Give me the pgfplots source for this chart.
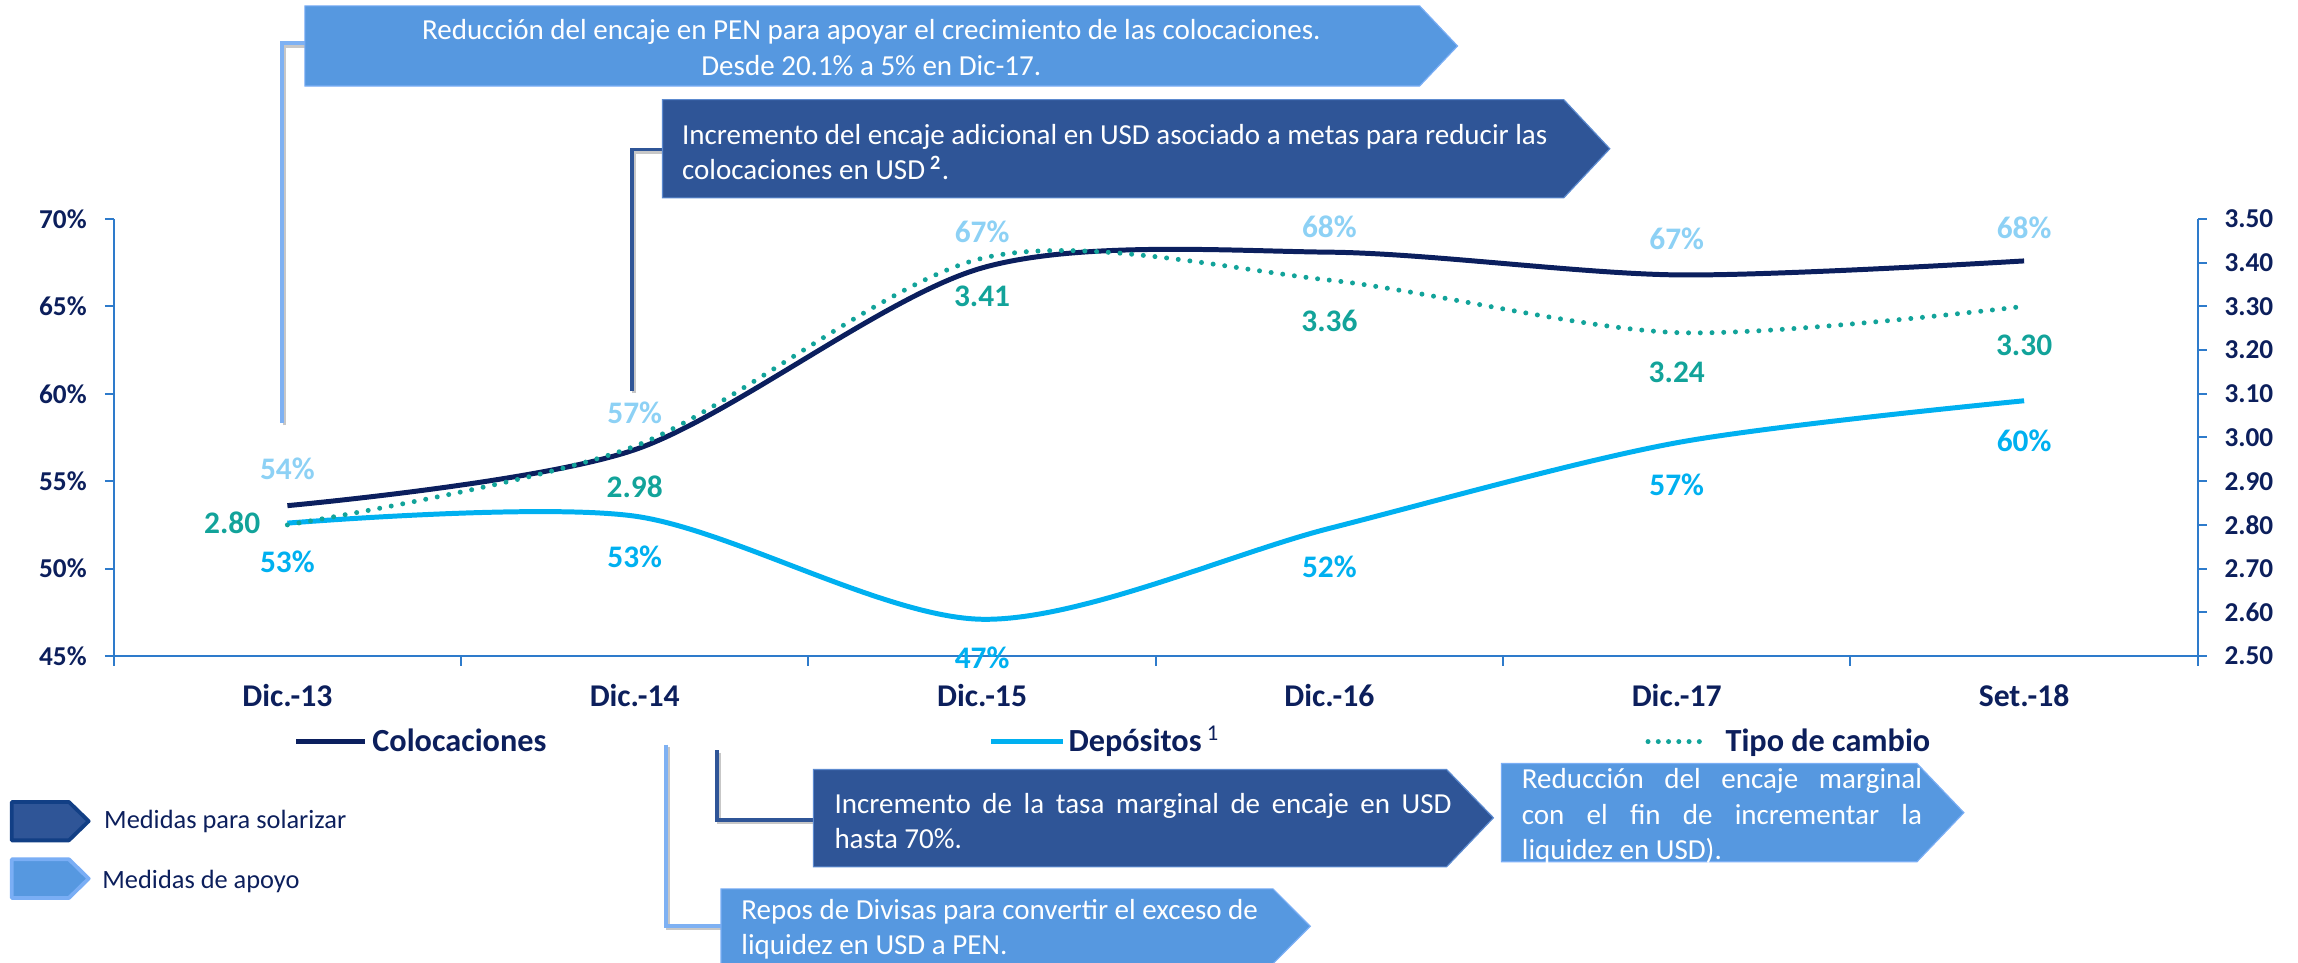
\documentclass[border=0pt]{standalone}
\usepackage{pgfplots}
\pgfplotsset{compat=1.18}
\usepackage{fontspec}
\setmainfont{Carlito}

\definecolor{navy}{HTML}{0C1F5C}
\definecolor{colline}{HTML}{0B1F5E}
\definecolor{dep}{HTML}{00B0F0}
\definecolor{tc}{HTML}{12A39A}
\definecolor{collab}{HTML}{8DD1F5}
\definecolor{axblue}{HTML}{2E7BCB}
\definecolor{boxlight}{HTML}{5698E0}
\definecolor{boxlightedge}{HTML}{7AAEF5}
\definecolor{boxdark}{HTML}{2F5597}
\definecolor{boxdarkedge}{HTML}{123F85}
\definecolor{conlight}{HTML}{7EB1F3}

\newcommand{\fs}[1]{\fontsize{#1}{#1}\selectfont}
\newcommand{\boxfont}{\fontsize{9.9}{12}\selectfont}

\begin{document}
\begin{tikzpicture}
\pgfplotsset{
  common/.style={
    at={(38.8pt,-223.8pt)}, anchor=south west,
    scale only axis, width=711pt, height=149.1pt,
    xmin=-0.5, xmax=5.5, clip=false,
    tick align=outside,
    /pgf/number format/assume math mode=true,
    axis line style={draw=axblue, line width=0.8pt},
    tick style={draw=axblue, line width=0.7pt},
    major tick length=3pt, minor tick length=3.4pt,
  },
}
% eje izquierdo: colocaciones y depositos
\begin{axis}[common, ymin=45, ymax=70,
  axis x line*=bottom, axis y line*=left,
  xtick={0,...,5},
  xticklabels={Dic.-13,Dic.-14,Dic.-15,Dic.-16,Dic.-17,Set.-18},
  major x tick style={draw=none},
  minor xtick={-0.5,0.5,1.5,2.5,3.5,4.5,5.5},
  ytick={45,50,55,60,65,70},
  yticklabel={\pgfmathprintnumber{\tick}\%},
  yticklabel style={font=\bfseries\fs{9.3}, text=navy, xshift=-2.7pt},
  xticklabel style={font=\bfseries\fs{10.8}, text=navy, anchor=base, yshift=-14.4pt},
]
\addplot[colline, line width=1.7pt, smooth] coordinates {(0,53.6)(1,56.8)(2,67.2)(3,68.1)(4,66.8)(5,67.6)};
\addplot[dep, line width=1.7pt, smooth] coordinates {(0,52.6)(1,53.0)(2,47.1)(3,52.3)(4,57.2)(5,59.6)};

% etiquetas Colocaciones
\begin{scope}[every node/.style={font=\bfseries\fs{10.7}, text=collab}]
\node at (axis cs:0,55.70) {54\%};
\node at (axis cs:1,58.92) {57\%};
\node at (axis cs:2,69.28) {67\%};
\node at (axis cs:3,69.56) {68\%};
\node at (axis cs:4,68.89) {67\%};
\node at (axis cs:5,69.51) {68\%};
\end{scope}
% etiquetas Depositos
\begin{scope}[every node/.style={font=\bfseries\fs{10.7}, text=dep}]
\node at (axis cs:0,50.40) {53\%};
\node at (axis cs:1,50.68) {53\%};
\node at (axis cs:2,44.87) {47\%};
\node at (axis cs:3,50.11) {52\%};
\node at (axis cs:4,54.78) {57\%};
\node at (axis cs:5,57.32) {60\%};
\end{scope}
% etiquetas Tipo de cambio
\begin{scope}[every node/.style={font=\bfseries\fs{10.7}, text=tc}]
\node at (axis cs:-0.159,52.63) {2.80};
\node at (axis cs:1,54.69) {2.98};
\node at (axis cs:2,65.59) {3.41};
\node at (axis cs:3,64.17) {3.36};
\node at (axis cs:4,61.23) {3.24};
\node at (axis cs:5,62.79) {3.30};
\end{scope}
\end{axis}

% eje derecho: tipo de cambio
\begin{axis}[common, ymin=2.5, ymax=3.5,
  axis x line=none, axis y line*=right,
  ytick={2.5,2.6,2.7,2.8,2.9,3.0,3.1,3.2,3.3,3.4,3.5},
  yticklabel style={font=\bfseries\fs{9.3}, text=navy, xshift=2.6pt,
    /pgf/number format/fixed, /pgf/number format/fixed zerofill,
    /pgf/number format/precision=2},
]
\addplot[tc, line width=1.7pt, line cap=round, dash pattern=on 0pt off 4pt, smooth]
  coordinates {(0,2.80)(1,2.98)(2,3.41)(3,3.36)(4,3.24)(5,3.30)};
\end{axis}

\begin{scope}[x=0.5pt, y=-0.5pt]
% conectores
\draw[black!22, line width=1.3pt, shift={(1.6,1.6)}] (192.5,288.6) -- (192.5,29.6) -- (209,29.6);
\draw[conlight, line width=1.3pt] (192.5,288.6) -- (192.5,29.6) -- (209,29.6);
\draw[black!22, line width=1.3pt, shift={(1.6,1.6)}] (431,266.6) -- (431,102) -- (453,102);
\draw[boxdark, line width=1.3pt] (431,266.6) -- (431,102) -- (453,102);
\draw[black!22, line width=1.3pt, shift={(1.6,1.6)}] (489,512) -- (489,559.5) -- (556,559.5);
\draw[boxdark, line width=1.3pt] (489,512) -- (489,559.5) -- (556,559.5);
\draw[black!22, line width=1.3pt, shift={(1.6,1.6)}] (454.4,508) -- (454.4,632) -- (493,632);
\draw[conlight, line width=1.3pt] (454.4,508) -- (454.4,632) -- (493,632);

% cajas
\filldraw[fill=boxlight, draw=boxlightedge, line width=0.4pt]
  (208,4) -- (968.6,4) -- (994.5,31.4) -- (968.6,58.7) -- (208,58.7) -- cycle;
\filldraw[fill=boxdark, draw=boxlightedge!60!boxdark, line width=0.4pt]
  (452,68) -- (1067,68) -- (1098.4,101.5) -- (1067,135) -- (452,135) -- cycle;
\filldraw[fill=boxdark, draw=boxlightedge!60!boxdark, line width=0.4pt]
  (555,525) -- (987,525) -- (1019,558) -- (987,591.5) -- (555,591.5) -- cycle;
\filldraw[fill=boxlight, draw=boxlightedge, line width=0.4pt]
  (492,606.5) -- (868.6,606.5) -- (894,632) -- (868.6,657.5) -- (492,657.5) -- cycle;
\filldraw[fill=boxlight, draw=boxlightedge, line width=0.4pt]
  (1024.4,521) -- (1308,521) -- (1340,554.5) -- (1308,588) -- (1024.4,588) -- cycle;

\begin{scope}[every node/.style={text=white, font=\boxfont, inner sep=0pt}]
\node[align=center] at (594.5,32.5) {Reducción del encaje en PEN para apoyar el crecimiento de las colocaciones.\\Desde 20.1\% a 5\% en Dic-17.};
\node[align=left, anchor=west] at (465,104) {Incremento del encaje adicional en USD asociado a metas para reducir las\\colocaciones en USD\,\textsuperscript{\textbf{2}}.};
\node[align=left, anchor=west] at (569,560) {\makebox[210.5pt][s]{Incremento de la tasa marginal de encaje en USD}\\hasta 70\%.};
\node[align=left, anchor=west] at (505.5,634) {Repos de Divisas para convertir el exceso de\\liquidez en USD a PEN.};
\node[align=left, anchor=west] at (1038,557) {\makebox[136.5pt][s]{Reducción del encaje marginal}\\\makebox[136.5pt][s]{con el fin de incrementar la}\\liquidez en USD).};
\end{scope}

% leyenda de series
\draw[colline, line width=1.8pt] (202,506) -- (249,506);
\node[anchor=base west, inner sep=0pt, font=\bfseries\fs{11}, text=navy] at (253.7,513) {Colocaciones};
\draw[dep, line width=1.8pt] (676.5,506) -- (725.6,506);
\node[anchor=base west, inner sep=0pt, font=\bfseries\fs{11}, text=navy] at (728.7,513) {Depósitos\,\textsuperscript{\mdseries 1}};
\draw[tc, line width=1.7pt, line cap=round, dash pattern=on 0pt off 3.5pt] (1124.5,506) -- (1160,506);
\node[anchor=base west, inner sep=0pt, font=\bfseries\fs{11}, text=navy] at (1177,513) {Tipo de cambio};

% leyenda de medidas
\filldraw[fill=boxdark, draw=boxdarkedge, line width=1.3pt, line join=round]
  (8,547.2) -- (47,547.2) -- (60.5,560.3) -- (47,573.4) -- (8,573.4) -- cycle;
\filldraw[fill=boxlight, draw=boxlightedge, line width=1.3pt, line join=round]
  (8,586.3) -- (47,586.3) -- (60.5,599.5) -- (47,612.7) -- (8,612.7) -- cycle;
\node[anchor=base west, inner sep=0pt, font=\fs{9}, text=navy] at (70.7,565.2) {Medidas para solarizar};
\node[anchor=base west, inner sep=0pt, font=\fs{9}, text=navy] at (69.5,606) {Medidas de apoyo};

\pgfresetboundingbox
\useasboundingbox (0,0) rectangle (1568,657);
\end{scope}
\end{tikzpicture}
\end{document}
